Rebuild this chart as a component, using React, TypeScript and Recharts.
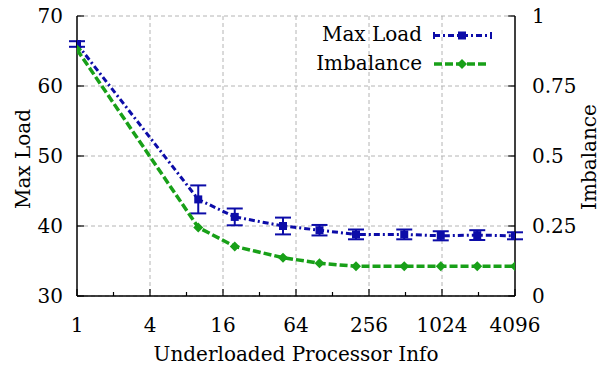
import React from "react";
import {
  CartesianGrid,
  ComposedChart,
  ErrorBar,
  Legend,
  Line,
  XAxis,
  YAxis,
} from "recharts";

const procInfo = [1, 10, 20, 50, 100, 200, 500, 1000, 2000, 4096];
const maxLoad = [66.0, 43.8, 41.3, 40.0, 39.4, 38.8, 38.8, 38.6, 38.7, 38.6];
const maxLoadErr = [0.4, 2.0, 1.2, 1.2, 0.75, 0.7, 0.7, 0.65, 0.7, 0.5];
const imbalance = [0.88, 0.245, 0.177, 0.137, 0.117, 0.106, 0.106, 0.106, 0.106, 0.106];

const xTicks = [1, 2, 4, 8, 16, 32, 64, 128, 256, 512, 1024, 2048, 4096];
const xMajor = [1, 4, 16, 64, 256, 1024, 4096];
const xGrid = [4, 16, 64, 256, 1024];
const loadTicks = [30, 40, 50, 60, 70];
const imbTicks = [0, 0.25, 0.5, 0.75, 1];

const BLUE = "#0c0ca8";
const GREEN = "#18a018";
const FS = 20;
const txt = { fontFamily: '"DejaVu Serif", serif', fontSize: FS, fill: "#000" };

const data = procInfo.map((p, i) => ({
  p,
  load: maxLoad[i],
  err: maxLoadErr[i],
  imb: imbalance[i],
}));

const XTick = (props: any) => {
  const { x, y, payload } = props;
  const major = xMajor.includes(payload.value);
  return (
    <g>
      <line x1={x} x2={x} y1={y} y2={y - (major ? 7 : 4)} stroke="#000" strokeWidth={1.2} />
      {major && (
        <text x={x} y={y + 36} textAnchor="middle" style={txt}>
          {payload.value}
        </text>
      )}
    </g>
  );
};

const LeftTick = (props: any) => {
  const { x, y, payload } = props;
  return (
    <g>
      <line x1={x} x2={x + 7} y1={y} y2={y} stroke="#000" strokeWidth={1.2} />
      <text x={x - 14} y={y} dy="0.36em" textAnchor="end" style={txt}>
        {payload.value}
      </text>
    </g>
  );
};

const RightTick = (props: any) => {
  const { x, y, payload } = props;
  return (
    <g>
      <line x1={x} x2={x - 7} y1={y} y2={y} stroke="#000" strokeWidth={1.2} />
      <text x={x + 17} y={y} dy="0.36em" textAnchor="start" style={txt}>
        {payload.value}
      </text>
    </g>
  );
};

const SquareDot = (props: any) => {
  const { cx, cy } = props;
  if (cx == null || cy == null) return null;
  return <rect x={cx - 4} y={cy - 4} width={8} height={8} fill={BLUE} />;
};

const DiamondDot = (props: any) => {
  const { cx, cy } = props;
  if (cx == null || cy == null) return null;
  return <path d={`M${cx},${cy - 5}L${cx + 5},${cy}L${cx},${cy + 5}L${cx - 5},${cy}Z`} fill={GREEN} />;
};

const KeyBox = () => (
  <svg width={250} height={64} style={{ display: "block" }}>
    <text x={164} y={21} textAnchor="end" style={txt}>
      Max Load
    </text>
    <line x1={176} x2={233} y1={15.5} y2={15.5} stroke={BLUE} strokeWidth={3} strokeDasharray="6 3 2 3" />
    <line x1={176} x2={176} y1={12} y2={19} stroke={BLUE} strokeWidth={2} />
    <line x1={233} x2={233} y1={12} y2={19} stroke={BLUE} strokeWidth={2} />
    <rect x={200} y={11.5} width={8} height={8} fill={BLUE} />
    <text x={164} y={50} textAnchor="end" style={txt}>
      Imbalance
    </text>
    <line x1={176} x2={230} y1={44} y2={44} stroke={GREEN} strokeWidth={3.5} strokeDasharray="8 3" />
    <path d="M204,39L209,44L204,49L199,44Z" fill={GREEN} />
  </svg>
);

export default function App() {
  return (
    <div style={{ width: 611, height: 368, margin: "-8px 0 0 -8px" }}>
      <ComposedChart width={611} height={368} data={data} margin={{ top: 16, right: 0, bottom: 0, left: 0 }}>
        <CartesianGrid
          yAxisId="left"
          stroke="#b4b4b4"
          strokeDasharray="4 3"
          verticalValues={xGrid}
          horizontalValues={loadTicks}
        />
        <XAxis
          dataKey="p"
          type="number"
          scale="log"
          domain={[1, 4096]}
          allowDataOverflow
          ticks={xTicks}
          interval={0}
          height={72}
          tickSize={0}
          tickMargin={0}
          tickLine={false}
          axisLine={{ stroke: "#000", strokeWidth: 1.5 }}
          tick={<XTick />}
          label={{
            content: (p: any) => (
              <text x={p.viewBox.x + p.viewBox.width / 2} y={p.viewBox.y + 65} textAnchor="middle" style={txt}>
                Underloaded Processor Info
              </text>
            ),
          }}
        />
        <YAxis
          yAxisId="left"
          orientation="left"
          type="number"
          domain={[30, 70]}
          ticks={loadTicks}
          interval={0}
          width={77}
          tickSize={0}
          tickMargin={0}
          tickLine={false}
          axisLine={{ stroke: "#000", strokeWidth: 1.5 }}
          tick={<LeftTick />}
          label={{
            content: (p: any) => {
              const cx = 30;
              const cy = p.viewBox.y + p.viewBox.height / 2 + 3;
              return (
                <text x={cx} y={cy} transform={`rotate(-90, ${cx}, ${cy})`} textAnchor="middle" style={txt}>
                  Max Load
                </text>
              );
            },
          }}
        />
        <YAxis
          yAxisId="right"
          orientation="right"
          type="number"
          domain={[0, 1]}
          ticks={imbTicks}
          interval={0}
          width={96}
          tickSize={0}
          tickMargin={0}
          tickLine={false}
          axisLine={{ stroke: "#000", strokeWidth: 1.5 }}
          tick={<RightTick />}
          label={{
            content: (p: any) => {
              const cx = p.viewBox.x + 81;
              const cy = p.viewBox.y + p.viewBox.height / 2 + 1;
              return (
                <text x={cx} y={cy} transform={`rotate(-90, ${cx}, ${cy})`} textAnchor="middle" style={txt}>
                  Imbalance
                </text>
              );
            },
          }}
        />
        <Legend
          layout="vertical"
          align="center"
          verticalAlign="middle"
          wrapperStyle={{ left: 258, top: 20, width: 250 }}
          content={() => <KeyBox />}
        />
        <Line
          yAxisId="left"
          dataKey="load"
          name="Max Load"
          type="linear"
          stroke={BLUE}
          strokeWidth={3}
          strokeDasharray="6 3 2 3"
          dot={<SquareDot />}
          activeDot={false}
          isAnimationActive={false}
        >
          <ErrorBar dataKey="err" direction="y" width={8} stroke={BLUE} strokeWidth={2} isAnimationActive={false} />
        </Line>
        <Line
          yAxisId="right"
          dataKey="imb"
          name="Imbalance"
          type="linear"
          stroke={GREEN}
          strokeWidth={3.5}
          strokeDasharray="8 3"
          dot={<DiamondDot />}
          activeDot={false}
          isAnimationActive={false}
        />
      </ComposedChart>
    </div>
  );
}
